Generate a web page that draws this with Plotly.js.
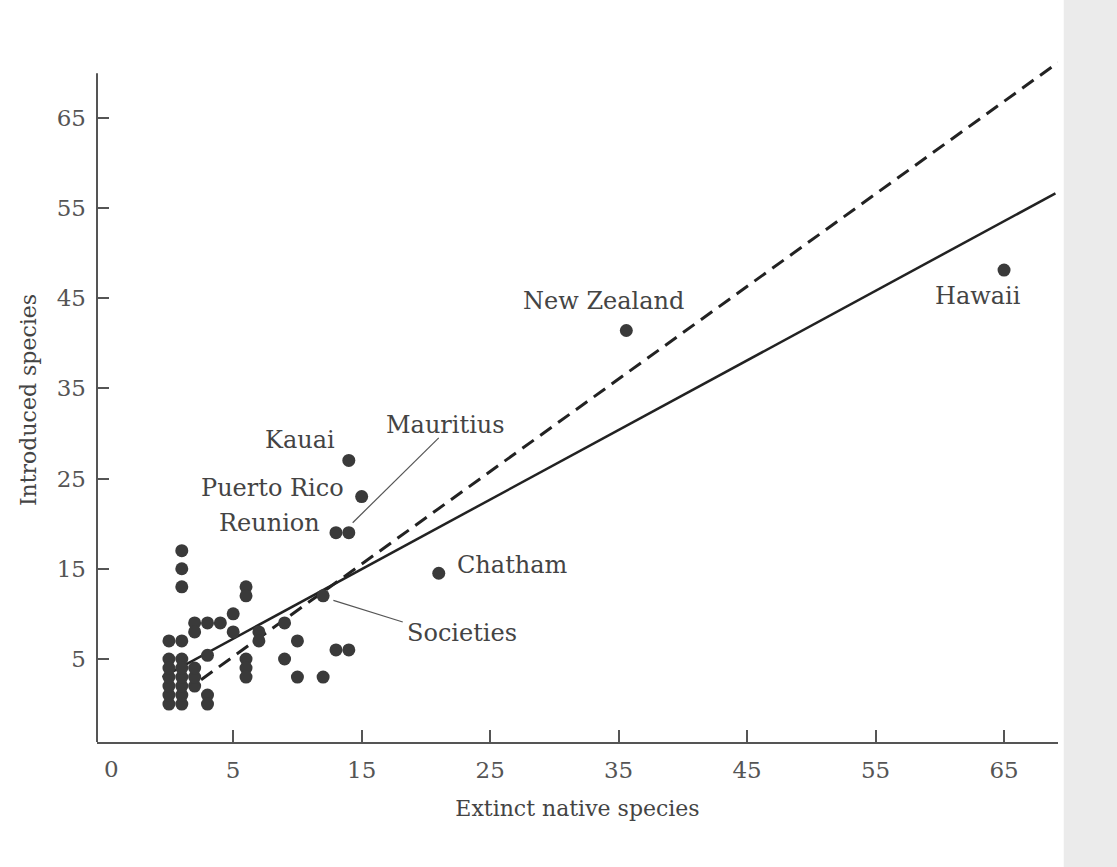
<!DOCTYPE html>
<html><head><meta charset="utf-8">
<script src="https://cdn.plot.ly/plotly-3.0.1.min.js"></script>
<style>html,body{margin:0;padding:0;background:#fff}#chart{width:1117px;height:867px}</style>
</head><body><div id="chart"></div>
<script>
// Named islands
const islandNames = ["Kauai", "Puerto Rico", "Reunion", "Mauritius", "Chatham", "Societies", "New Zealand", "Hawaii"];
const islandX = [14, 15, 13, 14, 21, 12, 35.6, 65];
const islandY = [27, 23, 19, 19, 14.5, 12, 41.4, 48.1];

// Other (unlabelled) islands
const otherX = [1, 1, 1, 6, 6, 2, 3, 4, 5, 2, 5, 0, 1, 0, 1, 3, 7, 7, 9, 10, 9, 13, 14, 10, 12, 6, 6, 6, 3, 3,
                0, 1, 0, 1, 0, 1, 2, 0, 1, 2, 0, 1, 2];
const otherY = [17, 15, 13, 13, 12, 9, 9, 9, 10, 8, 8, 7, 7, 5, 5, 5.4, 8, 7, 9, 7, 5, 6, 6, 3, 3, 5, 4, 3, 1, 0,
                0, 0, 1, 1, 2, 2, 2, 3, 3, 3, 4, 4, 4];

// Regression lines (end points)
const solidLineX = [-0.5, 69.0];
const solidLineY = [3.0, 56.6];
const dashedLineX = [2.5, 69.2];
const dashedLineY = [2.7, 71.1];

// Axes
const xTickVals = [5, 15, 25, 35, 45, 55, 65];
const yTickVals = [5, 15, 25, 35, 45, 55, 65];
const originLabel = "0";
const xTitle = "Extinct native species";
const yTitle = "Introduced species";

const FONT = "DejaVu Serif, Liberation Serif, serif";
const INK = "#3a3a3a";

const traces = [
  {x: solidLineX, y: solidLineY, mode: "lines", type: "scatter",
   line: {color: "#222", width: 2.5}, hoverinfo: "skip"},
  {x: dashedLineX, y: dashedLineY, mode: "lines", type: "scatter",
   line: {color: "#222", width: 3, dash: "14px,8px"}, hoverinfo: "skip"},
  {x: otherX, y: otherY, mode: "markers", type: "scatter",
   marker: {color: INK, size: 13, line: {width: 0}}},
  {x: islandX, y: islandY, mode: "markers", type: "scatter", text: islandNames,
   marker: {color: INK, size: 13, line: {width: 0}}}
];

const labelPos = {
  "Kauai":       {x: 13.1, y: 29.3, xanchor: "right"},
  "Puerto Rico": {x: 13.8, y: 23.9, xanchor: "right"},
  "Reunion":     {x: 11.9, y: 20.1, xanchor: "right"},
  "Mauritius":   {x: 21.5, y: 30.9, xanchor: "center"},
  "Chatham":     {x: 22.3, y: 15.4, xanchor: "left"},
  "Societies":   {x: 22.8, y: 7.9,  xanchor: "center"},
  "New Zealand": {x: 33.8, y: 44.7, xanchor: "center"},
  "Hawaii":      {x: 63.0, y: 45.2, xanchor: "center"}
};

const annotations = islandNames.map(n => ({
  text: n, x: labelPos[n].x, y: labelPos[n].y, xref: "x", yref: "y",
  xanchor: labelPos[n].xanchor, yanchor: "middle", showarrow: false,
  font: {family: FONT, size: 24, color: "#444"}
}));
annotations.push({
  text: originLabel, x: -4.5, y: -4.2, xref: "x", yref: "y", xanchor: "center", yanchor: "top",
  yshift: -12, showarrow: false, font: {family: FONT, size: 23, color: "#555"}
});

const shapes = [
  // leader lines
  {type: "line", xref: "x", yref: "y", x0: 21.0, y0: 29.5, x1: 14.3, y1: 20.1, line: {color: "#555", width: 1.2}},
  {type: "line", xref: "x", yref: "y", x0: 12.8, y0: 11.5, x1: 18.2, y1: 9.1, line: {color: "#555", width: 1.2}},
  // y axis line
  {type: "line", xref: "paper", yref: "y", x0: 0, x1: 0, y0: -4.2, y1: 69.9, line: {color: "#555", width: 2}},
  // page edge shading
  {type: "rect", xref: "paper", yref: "paper", x0: 1.006, x1: 1.08, y0: -0.2, y1: 1.1,
   fillcolor: "#ebebeb", line: {width: 0}, layer: "below"}
];

const layout = {
  width: 1117, height: 867,
  margin: {l: 97, r: 59, t: 58, b: 125},
  paper_bgcolor: "#ffffff", plot_bgcolor: "rgba(0,0,0,0)",
  showlegend: false,
  xaxis: {
    range: [-5.6, 69.2], tickvals: xTickVals, ticks: "inside", ticklen: 12, tickwidth: 2,
    tickcolor: "#555", showgrid: false, zeroline: false, showline: true, linecolor: "#555", linewidth: 2,
    ticklabelstandoff: 6,
    tickfont: {family: FONT, size: 23, color: "#555"},
    title: {text: xTitle, standoff: 19, font: {family: FONT, size: 22, color: "#444"}}
  },
  yaxis: {
    range: [-4.2, 71.6], tickvals: yTickVals, ticks: "inside", ticklen: 12, tickwidth: 2,
    tickcolor: "#555", showgrid: false, zeroline: false, showline: false,
    ticklabelstandoff: 10,
    tickfont: {family: FONT, size: 23, color: "#555"},
    title: {text: yTitle, standoff: 14, font: {family: FONT, size: 22, color: "#444"}}
  },
  annotations: annotations,
  shapes: shapes
};

Plotly.newPlot("chart", traces, layout, {displayModeBar: false, staticPlot: true});
</script>
</body></html>
